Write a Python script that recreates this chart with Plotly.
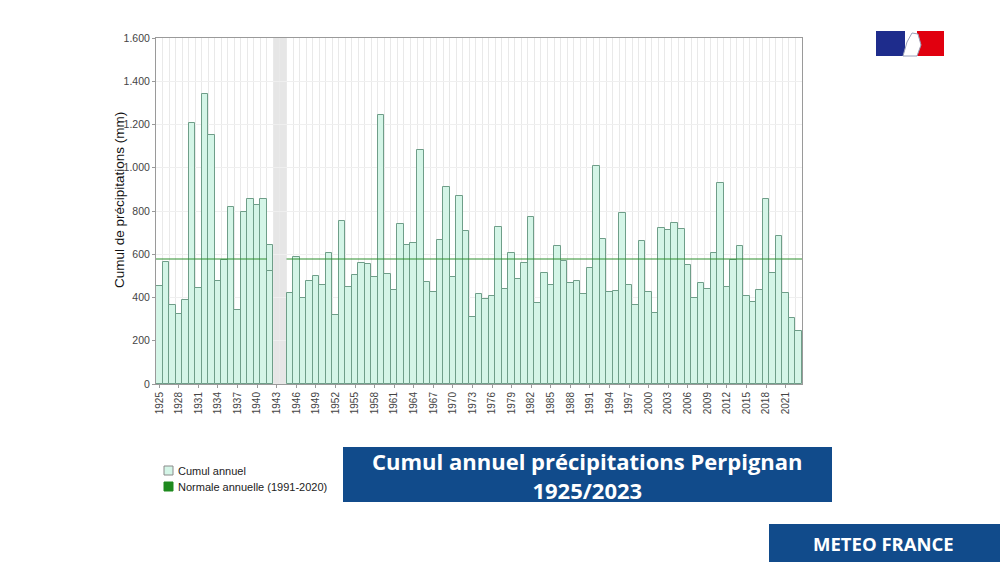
import plotly.graph_objects as go

# Annual precipitation totals, Perpignan (mm) - 1943/1944 missing
years = list(range(1925, 2024))
cumul = [
    452, 564, 365, 324, 387, 1205, 445, 1341, 1150, 478,   # 1925-1934
    575, 820, 341, 795, 854, 826, 854, 643, None, None,    # 1935-1944
    419, 586, 396, 476, 498, 456, 604, 321, 752, 449,      # 1945-1954
    502, 558, 553, 493, 1244, 507, 433, 741, 641, 650,     # 1955-1964
    1082, 470, 425, 664, 909, 493, 868, 709, 308, 418,     # 1965-1974
    392, 405, 728, 438, 604, 484, 558, 774, 373, 512,      # 1975-1984
    459, 638, 567, 469, 478, 415, 535, 1010, 671, 427,     # 1985-1994
    432, 791, 459, 365, 663, 424, 330, 720, 711, 746,      # 1995-2004
    717, 550, 396, 467, 438, 604, 931, 447, 575, 640,      # 2005-2014
    405, 381, 436, 854, 513, 683, 419, 304, 244,           # 2015-2023
]
# second (lower) value drawn inside the 1942 bar
extra_year = [1942]
extra_val = [521]

normale = 578
normal_gap = [1942, 1943, 1944]
missing_years = [1943, 1944]
tick_years = list(range(1925, 2022, 3))

bar_fill = '#d4f5e7'
bar_line = '#6f9e89'
normal_green = '#2f8f2f'
banner_blue = '#114b8b'

# plot area in pixels, used to place the decorations in paper coords
L, R, T, B = 156, 802, 38, 384
def px(x):
    return (x - L) / (R - L)
def py(y):
    return (B - y) / (B - T)

fig = go.Figure()

fig.add_trace(go.Bar(
    x=years, y=cumul, width=1, name='Cumul annuel',
    marker=dict(color=bar_fill, line=dict(color=bar_line, width=1)),
    showlegend=False
))
fig.add_trace(go.Bar(
    x=extra_year, y=extra_val, width=1,
    marker=dict(color=bar_fill, line=dict(color=bar_line, width=1)),
    showlegend=False
))

# normal line, drawn over each run of years outside the gap
runs, cur = [], []
for yr in years:
    if yr in normal_gap:
        if cur:
            runs.append(cur)
        cur = []
    else:
        cur.append(yr)
if cur:
    runs.append(cur)
nx, ny = [], []
for r in runs:
    nx += [r[0] - 0.5, r[-1] + 0.5, None]
    ny += [normale, normale, None]
fig.add_trace(go.Scatter(x=nx, y=ny, mode='lines', name='Normale annuelle (1991-2020)',
                         line=dict(color=normal_green, width=1.2),
                         showlegend=False, hoverinfo='skip'))

# grey band for missing years
fig.add_vrect(x0=missing_years[0] - 0.5, x1=missing_years[-1] + 0.5,
              fillcolor='#e6e6e6', line_width=0, layer='below')

fig.update_layout(
    width=1000, height=562,
    paper_bgcolor='white', plot_bgcolor='white',
    margin=dict(l=L, r=1000 - R, t=T, b=562 - B),
    barmode='overlay', bargap=0,
    separators=',.',
    font=dict(family='Liberation Sans, Arial, sans-serif', color='#333'),
    showlegend=False,
    xaxis=dict(
        range=[1924.5, 2023.5], tickmode='array', tickvals=tick_years,
        ticktext=[str(t) for t in tick_years], tickangle=-90,
        tickfont=dict(size=10, color='#444'),
        showgrid=False, showline=True, linecolor='#9a9a9a', mirror=True,
        ticks='outside', ticklen=3, tickcolor='#9a9a9a',
        minor=dict(tick0=1924.5, dtick=1, showgrid=True, gridcolor='#e9e9e9'),
        zeroline=False,
    ),
    yaxis=dict(
        range=[0, 1600], dtick=200, tickformat=',d',
        tickfont=dict(size=10.5, color='#444'),
        gridcolor='#efefef', showline=True, linecolor='#9a9a9a', mirror=True,
        ticks='outside', ticklen=3, tickcolor='#9a9a9a', zeroline=False,
    ),
)

# y axis title
fig.add_annotation(xref='paper', yref='paper', x=px(119), y=py(200),
                   xanchor='center', yanchor='middle', textangle=-90, showarrow=False,
                   text='Cumul de précipitations (mm)', font=dict(size=13.5, color='#111'))

# legend drawn by hand: small square swatches
fig.add_shape(type='rect', xref='paper', yref='paper',
              x0=px(164), x1=px(173), y0=py(475), y1=py(466),
              fillcolor=bar_fill, line=dict(color='#8a8a8a', width=1))
fig.add_shape(type='rect', xref='paper', yref='paper',
              x0=px(164), x1=px(173), y0=py(491), y1=py(482),
              fillcolor='#1f8a1f', line=dict(color='#1f8a1f', width=1))
fig.add_annotation(xref='paper', yref='paper', x=px(176), y=py(470.5),
                   xanchor='left', yanchor='middle', showarrow=False,
                   text='Cumul annuel', font=dict(size=11, color='#222'))
fig.add_annotation(xref='paper', yref='paper', x=px(176), y=py(486.5),
                   xanchor='left', yanchor='middle', showarrow=False,
                   text='Normale annuelle (1991-2020)', font=dict(size=11, color='#222'))

# title banner
fig.add_shape(type='rect', xref='paper', yref='paper',
              x0=px(343), x1=px(832), y0=py(502), y1=py(447),
              fillcolor=banner_blue, line_width=0)
fig.add_annotation(xref='paper', yref='paper', x=px(587.5), y=py(475),
                   xanchor='center', yanchor='middle',
                   text='<b>Cumul annuel précipitations Perpignan<br>1925/2023</b>',
                   showarrow=False, align='center',
                   font=dict(family='Open Sans, sans-serif', size=22, color='white'))

# METEO FRANCE banner
fig.add_shape(type='rect', xref='paper', yref='paper',
              x0=px(769), x1=px(1000), y0=py(562), y1=py(524),
              fillcolor=banner_blue, line_width=0)
fig.add_annotation(xref='paper', yref='paper', x=px(884), y=py(543),
                   xanchor='center', yanchor='middle',
                   text='<b>METEO FRANCE</b>', showarrow=False,
                   font=dict(family='Open Sans, sans-serif', size=18.5, color='white'))

# flag logo
fig.add_shape(type='rect', xref='paper', yref='paper',
              x0=px(876), x1=px(905), y0=py(56), y1=py(31),
              fillcolor='#1e2c8c', line_width=0)
fig.add_shape(type='rect', xref='paper', yref='paper',
              x0=px(917), x1=px(944), y0=py(56), y1=py(31),
              fillcolor='#e1000f', line_width=0)
fig.add_shape(type='path', xref='paper', yref='paper',
              path=f'M {px(903)} {py(56)} L {px(907)} {py(42)} L {px(912)} {py(33)} '
                   f'L {px(918)} {py(34)} L {px(921)} {py(45)} L {px(917)} {py(56)} Z',
              fillcolor='white', line=dict(color='#9aa0b8', width=1))

fig.write_html("out.html", config={'displayModeBar': False},
               post_script="document.body.style.margin='0';")
